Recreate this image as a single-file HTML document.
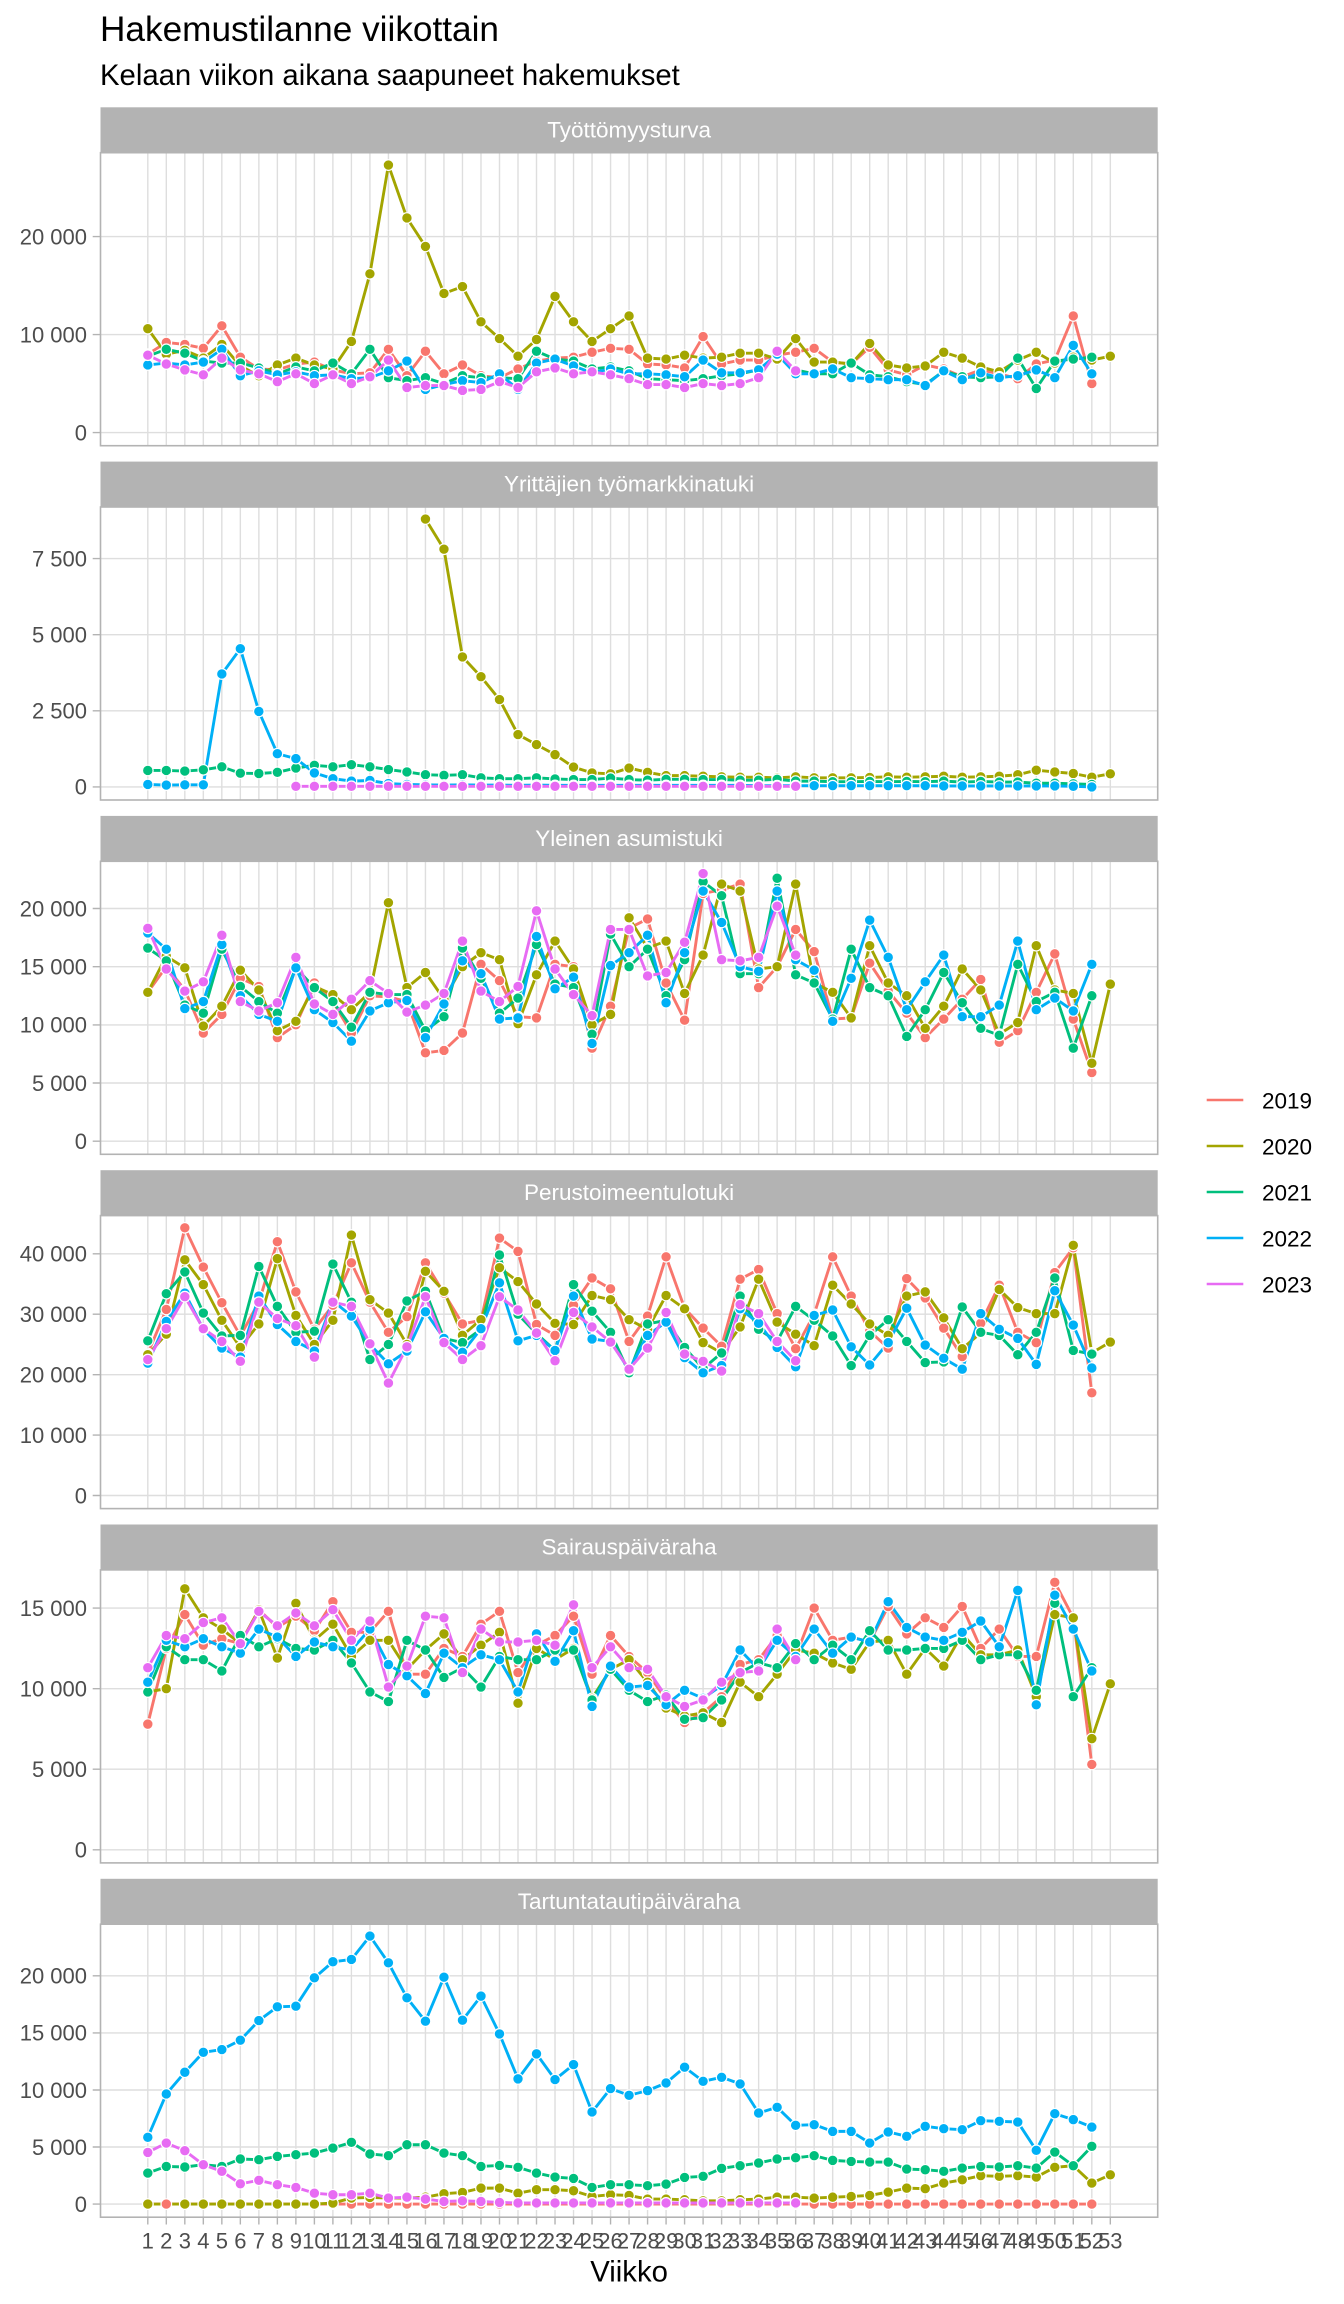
<!DOCTYPE html>
<html><head><meta charset="utf-8">
<style>
html,body{margin:0;padding:0;background:#fff}
svg{display:block}
text{font-family:"Liberation Sans",Arial,sans-serif}
.yl{font-size:22px;fill:#4D4D4D;text-anchor:end}
.xl{font-size:22px;fill:#4D4D4D;text-anchor:middle}
.st{font-size:22.5px;fill:#fff;text-anchor:middle}
.lg{font-size:22.5px;fill:#000}
.gr{stroke:#DEDEDE;stroke-width:1.4;fill:none}
.bd{stroke:#B3B3B3;stroke-width:1.6;fill:none}
.tk{stroke:#B3B3B3;stroke-width:1.4;fill:none}
</style></head><body>
<svg width="1344" height="2304" viewBox="0 0 1344 2304" xmlns="http://www.w3.org/2000/svg">
<defs>
<path id="vg" d="M147.8 0V293M166.31 0V293M184.82 0V293M203.33 0V293M221.84 0V293M240.35 0V293M258.86 0V293M277.37 0V293M295.88 0V293M314.39 0V293M332.9 0V293M351.41 0V293M369.92 0V293M388.43 0V293M406.94 0V293M425.45 0V293M443.96 0V293M462.47 0V293M480.98 0V293M499.49 0V293M518 0V293M536.51 0V293M555.02 0V293M573.53 0V293M592.04 0V293M610.55 0V293M629.06 0V293M647.57 0V293M666.08 0V293M684.59 0V293M703.1 0V293M721.61 0V293M740.12 0V293M758.63 0V293M777.14 0V293M795.65 0V293M814.16 0V293M832.67 0V293M851.18 0V293M869.69 0V293M888.2 0V293M906.71 0V293M925.22 0V293M943.73 0V293M962.24 0V293M980.75 0V293M999.26 0V293M1017.77 0V293M1036.28 0V293M1054.79 0V293M1073.3 0V293M1091.81 0V293M1110.32 0V293"/>

<marker id="m0a" markerUnits="userSpaceOnUse" overflow="visible"><circle transform="scale(.054025 -.102041)" r="5.3" fill="#F8766D" stroke="#fff" stroke-width="1.2"/></marker>
<marker id="m0b" markerUnits="userSpaceOnUse" overflow="visible"><circle transform="scale(.054025 -.102041)" r="5.3" fill="#A3A500" stroke="#fff" stroke-width="1.2"/></marker>
<marker id="m0c" markerUnits="userSpaceOnUse" overflow="visible"><circle transform="scale(.054025 -.102041)" r="5.3" fill="#00BF7D" stroke="#fff" stroke-width="1.2"/></marker>
<marker id="m0d" markerUnits="userSpaceOnUse" overflow="visible"><circle transform="scale(.054025 -.102041)" r="5.3" fill="#00B0F6" stroke="#fff" stroke-width="1.2"/></marker>
<marker id="m0e" markerUnits="userSpaceOnUse" overflow="visible"><circle transform="scale(.054025 -.102041)" r="5.3" fill="#E76BF3" stroke="#fff" stroke-width="1.2"/></marker>

<marker id="m1b" markerUnits="userSpaceOnUse" overflow="visible"><circle transform="scale(.054025 -.032852)" r="5.3" fill="#A3A500" stroke="#fff" stroke-width="1.2"/></marker>
<marker id="m1c" markerUnits="userSpaceOnUse" overflow="visible"><circle transform="scale(.054025 -.032852)" r="5.3" fill="#00BF7D" stroke="#fff" stroke-width="1.2"/></marker>
<marker id="m1d" markerUnits="userSpaceOnUse" overflow="visible"><circle transform="scale(.054025 -.032852)" r="5.3" fill="#00B0F6" stroke="#fff" stroke-width="1.2"/></marker>
<marker id="m1e" markerUnits="userSpaceOnUse" overflow="visible"><circle transform="scale(.054025 -.032852)" r="5.3" fill="#E76BF3" stroke="#fff" stroke-width="1.2"/></marker>

<marker id="m2a" markerUnits="userSpaceOnUse" overflow="visible"><circle transform="scale(.054025 -.085947)" r="5.3" fill="#F8766D" stroke="#fff" stroke-width="1.2"/></marker>
<marker id="m2b" markerUnits="userSpaceOnUse" overflow="visible"><circle transform="scale(.054025 -.085947)" r="5.3" fill="#A3A500" stroke="#fff" stroke-width="1.2"/></marker>
<marker id="m2c" markerUnits="userSpaceOnUse" overflow="visible"><circle transform="scale(.054025 -.085947)" r="5.3" fill="#00BF7D" stroke="#fff" stroke-width="1.2"/></marker>
<marker id="m2d" markerUnits="userSpaceOnUse" overflow="visible"><circle transform="scale(.054025 -.085947)" r="5.3" fill="#00B0F6" stroke="#fff" stroke-width="1.2"/></marker>
<marker id="m2e" markerUnits="userSpaceOnUse" overflow="visible"><circle transform="scale(.054025 -.085947)" r="5.3" fill="#E76BF3" stroke="#fff" stroke-width="1.2"/></marker>

<marker id="m3a" markerUnits="userSpaceOnUse" overflow="visible"><circle transform="scale(.054025 -.165494)" r="5.3" fill="#F8766D" stroke="#fff" stroke-width="1.2"/></marker>
<marker id="m3b" markerUnits="userSpaceOnUse" overflow="visible"><circle transform="scale(.054025 -.165494)" r="5.3" fill="#A3A500" stroke="#fff" stroke-width="1.2"/></marker>
<marker id="m3c" markerUnits="userSpaceOnUse" overflow="visible"><circle transform="scale(.054025 -.165494)" r="5.3" fill="#00BF7D" stroke="#fff" stroke-width="1.2"/></marker>
<marker id="m3d" markerUnits="userSpaceOnUse" overflow="visible"><circle transform="scale(.054025 -.165494)" r="5.3" fill="#00B0F6" stroke="#fff" stroke-width="1.2"/></marker>
<marker id="m3e" markerUnits="userSpaceOnUse" overflow="visible"><circle transform="scale(.054025 -.165494)" r="5.3" fill="#E76BF3" stroke="#fff" stroke-width="1.2"/></marker>

<marker id="m4a" markerUnits="userSpaceOnUse" overflow="visible"><circle transform="scale(.054025 -.062062)" r="5.3" fill="#F8766D" stroke="#fff" stroke-width="1.2"/></marker>
<marker id="m4b" markerUnits="userSpaceOnUse" overflow="visible"><circle transform="scale(.054025 -.062062)" r="5.3" fill="#A3A500" stroke="#fff" stroke-width="1.2"/></marker>
<marker id="m4c" markerUnits="userSpaceOnUse" overflow="visible"><circle transform="scale(.054025 -.062062)" r="5.3" fill="#00BF7D" stroke="#fff" stroke-width="1.2"/></marker>
<marker id="m4d" markerUnits="userSpaceOnUse" overflow="visible"><circle transform="scale(.054025 -.062062)" r="5.3" fill="#00B0F6" stroke="#fff" stroke-width="1.2"/></marker>
<marker id="m4e" markerUnits="userSpaceOnUse" overflow="visible"><circle transform="scale(.054025 -.062062)" r="5.3" fill="#E76BF3" stroke="#fff" stroke-width="1.2"/></marker>

<marker id="m5a" markerUnits="userSpaceOnUse" overflow="visible"><circle transform="scale(.054025 -.087604)" r="5.3" fill="#F8766D" stroke="#fff" stroke-width="1.2"/></marker>
<marker id="m5b" markerUnits="userSpaceOnUse" overflow="visible"><circle transform="scale(.054025 -.087604)" r="5.3" fill="#A3A500" stroke="#fff" stroke-width="1.2"/></marker>
<marker id="m5c" markerUnits="userSpaceOnUse" overflow="visible"><circle transform="scale(.054025 -.087604)" r="5.3" fill="#00BF7D" stroke="#fff" stroke-width="1.2"/></marker>
<marker id="m5d" markerUnits="userSpaceOnUse" overflow="visible"><circle transform="scale(.054025 -.087604)" r="5.3" fill="#00B0F6" stroke="#fff" stroke-width="1.2"/></marker>
<marker id="m5e" markerUnits="userSpaceOnUse" overflow="visible"><circle transform="scale(.054025 -.087604)" r="5.3" fill="#E76BF3" stroke="#fff" stroke-width="1.2"/></marker>

<path id="a0" vector-effect="non-scaling-stroke" d="M1 8 2 9.2 3 9 4 8.6 5 10.9 6 7.7 7 6.5 8 6.4 9 7 10 7.2 11 6.4 12 6 13 6.1 14 8.5 15 5.8 16 8.3 17 6 18 6.9 19 5.8 20 5.6 21 6.5 22 7.3 23 7.6 24 7.7 25 8.2 26 8.6 27 8.5 28 7 29 6.9 30 6.6 31 9.8 32 7 33 7.4 34 7.4 35 7.9 36 8.2 37 8.6 38 7.2 39 7 40 8.7 41 6.4 42 5.9 43 6.9 44 6.5 45 5.7 46 6.4 47 6 48 5.5 49 7 50 7.4 51 11.9 52 5"/>
<path id="b0" vector-effect="non-scaling-stroke" d="M1 10.6 2 8 3 8.4 4 7.6 5 9 6 6.8 7 5.8 8 6.9 9 7.6 10 6.9 11 6.5 12 9.3 13 16.2 14 27.3 15 21.9 16 19 17 14.2 18 14.9 19 11.3 20 9.6 21 7.8 22 9.5 23 13.9 24 11.3 25 9.3 26 10.6 27 11.9 28 7.6 29 7.5 30 7.9 31 7.6 32 7.7 33 8.1 34 8.1 35 7.5 36 9.6 37 7.2 38 7.2 39 7 40 9.1 41 6.9 42 6.6 43 6.8 44 8.2 45 7.6 46 6.7 47 6.2 48 7.4 49 8.2 50 7.1 51 7.7 52 7.4 53 7.8"/>
<path id="c0" vector-effect="non-scaling-stroke" d="M1 7.8 2 8.5 3 8.1 4 7.3 5 7.1 6 7.1 7 6.6 8 6 9 6.7 10 6.3 11 7.1 12 6 13 8.5 14 5.6 15 5.3 16 5.6 17 5 18 5.8 19 5.6 20 5.6 21 5.5 22 8.3 23 7.5 24 7.3 25 6.5 26 6.7 27 6.3 28 5.5 29 5.4 30 5.3 31 5.5 32 5.8 33 6 34 6.4 35 7.9 36 6.4 37 6 38 6 39 7.1 40 5.9 41 5.7 42 5.2 43 4.9 44 6.3 45 5.7 46 5.6 47 5.7 48 7.6 49 4.5 50 7.3 51 7.5 52 7.7"/>
<path id="d0" vector-effect="non-scaling-stroke" d="M1 6.9 2 7.1 3 6.9 4 7.2 5 8.5 6 5.8 7 6.3 8 5.9 9 6.2 10 5.8 11 5.9 12 5.5 13 5.6 14 6.3 15 7.3 16 4.4 17 4.9 18 5.3 19 5.1 20 6 21 4.4 22 7.1 23 7.5 24 6.8 25 6.1 26 6.5 27 6 28 6 29 5.9 30 5.7 31 7.4 32 6.1 33 6.1 34 6.4 35 8 36 6 37 6 38 6.5 39 5.6 40 5.5 41 5.4 42 5.4 43 4.8 44 6.3 45 5.4 46 6.1 47 5.6 48 5.8 49 6.4 50 5.6 51 8.9 52 6"/>
<path id="e0" vector-effect="non-scaling-stroke" d="M1 7.9 2 7 3 6.4 4 5.9 5 7.6 6 6.4 7 6 8 5.2 9 6 10 5 11 5.9 12 5 13 5.7 14 7.4 15 4.6 16 4.8 17 4.8 18 4.3 19 4.4 20 5.2 21 4.6 22 6.2 23 6.6 24 6 25 6.2 26 5.9 27 5.5 28 4.9 29 4.9 30 4.6 31 5 32 4.8 33 5 34 5.6 35 8.3 36 6.3"/>

<path id="b1" vector-effect="non-scaling-stroke" d="M16 8.8 17 7.81 18 4.27 19 3.62 20 2.87 21 1.72 22 1.39 23 1.06 24 .65 25 .46 26 .43 27 .62 28 .48 29 .37 30 .37 31 .35 32 .33 33 .32 34 .32 35 .3 36 .33 37 .3 38 .3 39 .3 40 .31 41 .33 42 .32 43 .33 44 .35 45 .32 46 .33 47 .35 48 .4 49 .55 50 .49 51 .44 52 .32 53 .43"/>
<path id="c1" vector-effect="non-scaling-stroke" d="M1 .54 2 .54 3 .52 4 .56 5 .66 6 .45 7 .44 8 .48 9 .62 10 .71 11 .66 12 .73 13 .66 14 .57 15 .49 16 .4 17 .38 18 .4 19 .3 20 .27 21 .27 22 .3 23 .26 24 .24 25 .24 26 .29 27 .24 28 .22 29 .25 30 .25 31 .24 32 .24 33 .22 34 .22 35 .25 36 .19 37 .19 38 .17 39 .17 40 .18 41 .17 42 .18 43 .17 44 .19 45 .16 46 .18 47 .16 48 .16 49 .12 50 .12 51 .1 52 .08"/>
<path id="d1" vector-effect="non-scaling-stroke" d="M1 .08 2 .06 3 .07 4 .07 5 3.71 6 4.54 7 2.48 8 1.09 9 .93 10 .46 11 .27 12 .19 13 .21 14 .11 15 .08 16 .07 17 .06 18 .07 19 .06 20 .06 21 .05 22 .06 23 .05 24 .05 25 .05 26 .05 27 .05 28 .05 29 .05 30 .05 31 .05 32 .05 33 .05 34 .04 35 .04 36 .04 37 .04 38 .04 39 .04 40 .04 41 .04 42 .04 43 .04 44 .03 45 .03 46 .03 47 .03 48 .03 49 .03 50 .03 51 .02 52 0"/>
<path id="e1" vector-effect="non-scaling-stroke" d="M9 .02 10 .02 11 .02 12 .02 13 .02 14 .02 15 .02 16 .02 17 .02 18 .02 19 .02 20 .02 21 .02 22 .02 23 .02 24 .02 25 .02 26 .02 27 .02 28 .02 29 .02 30 .02 31 .02 32 .02 33 .02 34 .02 35 .02 36 .02"/>

<path id="a2" vector-effect="non-scaling-stroke" d="M1 12.8 2 15 3 13 4 9.3 5 10.9 6 14 7 13.3 8 8.9 9 10 10 13.6 11 12 12 9.3 13 12.5 14 12.4 15 12 16 7.6 17 7.8 18 9.3 19 15.2 20 13.8 21 10.7 22 10.6 23 15.2 24 15 25 8 26 11.6 27 18.3 28 19.1 29 13.6 30 10.4 31 21.3 32 21.6 33 22.1 34 13.2 35 15 36 18.2 37 16.3 38 10.5 39 10.6 40 15.3 41 12.9 42 11 43 8.9 44 10.5 45 12.2 46 13.9 47 8.5 48 9.5 49 12.8 50 16.1 51 10.5 52 5.9"/>
<path id="b2" vector-effect="non-scaling-stroke" d="M1 12.8 2 15.9 3 14.9 4 9.9 5 11.6 6 14.7 7 13 8 9.5 9 10.3 10 13.3 11 12.6 12 11.3 13 12.8 14 20.5 15 13.2 16 14.5 17 12.2 18 15 19 16.2 20 15.6 21 10.1 22 14.3 23 17.2 24 14.8 25 10 26 10.9 27 19.2 28 16.6 29 17.2 30 12.7 31 16 32 22.1 33 21.5 34 14.8 35 15 36 22.1 37 13.6 38 12.8 39 10.6 40 16.8 41 13.6 42 12.5 43 9.7 44 11.6 45 14.8 46 13 47 9.2 48 10.2 49 16.8 50 13 51 12.7 52 6.7 53 13.5"/>
<path id="c2" vector-effect="non-scaling-stroke" d="M1 16.6 2 15.5 3 11.7 4 11 5 16.5 6 13.3 7 12 8 11 9 14.9 10 13.2 11 12 12 9.8 13 12.8 14 12.6 15 12.6 16 9.5 17 10.7 18 16.6 19 14 20 11 21 12.3 22 16.9 23 13.5 24 13.2 25 9.2 26 17.8 27 15 28 16.5 29 12.5 30 15.6 31 22.3 32 21.1 33 14.4 34 14.4 35 22.6 36 14.3 37 13.6 38 10.5 39 16.5 40 13.2 41 12.5 42 9 43 11.3 44 14.5 45 11.9 46 9.7 47 9.1 48 15.2 49 12 50 12.8 51 8 52 12.5"/>
<path id="d2" vector-effect="non-scaling-stroke" d="M1 17.9 2 16.5 3 11.4 4 12 5 16.9 6 12.5 7 10.9 8 10.3 9 14.9 10 11.3 11 10.2 12 8.6 13 11.2 14 11.9 15 12.1 16 8.9 17 11.8 18 15.5 19 14.4 20 10.5 21 10.6 22 17.6 23 13.1 24 14.1 25 8.4 26 15.1 27 16.2 28 17.7 29 11.9 30 16.2 31 21.5 32 18.8 33 15 34 14.6 35 21.5 36 15.6 37 14.7 38 10.3 39 14 40 19 41 15.8 42 11.3 43 13.7 44 16 45 10.7 46 10.7 47 11.7 48 17.2 49 11.3 50 12.3 51 11.2 52 15.2"/>
<path id="e2" vector-effect="non-scaling-stroke" d="M1 18.3 2 14.8 3 12.9 4 13.7 5 17.7 6 12 7 11.2 8 11.9 9 15.8 10 11.8 11 10.9 12 12.2 13 13.8 14 12.7 15 11.1 16 11.7 17 12.7 18 17.2 19 12.9 20 12 21 13.3 22 19.8 23 14.8 24 12.6 25 10.8 26 18.2 27 18.2 28 14.2 29 14.5 30 17.1 31 23 32 15.6 33 15.5 34 15.8 35 20.2 36 16"/>

<path id="a3" vector-effect="non-scaling-stroke" d="M1 23.5 2 30.8 3 44.3 4 37.8 5 31.9 6 26.4 7 32 8 42 9 33.7 10 27.5 11 31.5 12 38.5 13 32 14 27 15 29.6 16 38.5 17 33.5 18 28.4 19 29 20 42.6 21 40.4 22 28.3 23 26.5 24 31.5 25 36 26 34.2 27 25.5 28 29.7 29 39.5 30 31 31 27.7 32 24.7 33 35.8 34 37.4 35 30.1 36 24.3 37 30 38 39.5 39 33 40 27.2 41 24.4 42 35.9 43 32.7 44 27.7 45 23 46 28.5 47 34.8 48 27 49 25.3 50 36.9 51 41 52 17"/>
<path id="b3" vector-effect="non-scaling-stroke" d="M1 23.3 2 26.7 3 39 4 34.9 5 29 6 24.5 7 28.4 8 39.2 9 29.8 10 25 11 29 12 43.1 13 32.4 14 30.2 15 25 16 37.1 17 33.8 18 26.5 19 29.1 20 37.7 21 35.4 22 31.7 23 28.5 24 28.3 25 33.1 26 32.4 27 29.1 28 27.5 29 33.1 30 30.9 31 25.3 32 23.6 33 27.9 34 35.8 35 28.7 36 26.7 37 24.8 38 34.8 39 31.7 40 28.4 41 26.5 42 33 43 33.7 44 29.4 45 24.3 46 26.9 47 34.1 48 31.1 49 30.1 50 30.1 51 41.4 52 23.6 53 25.4"/>
<path id="c3" vector-effect="non-scaling-stroke" d="M1 25.6 2 33.4 3 37 4 30.2 5 26.4 6 26.5 7 37.9 8 31.3 9 27 10 27.2 11 38.3 12 32 13 22.5 14 25 15 32.2 16 33.8 17 26 18 25.3 19 27.5 20 39.8 21 30 22 26.8 23 24 24 34.9 25 30.5 26 27 27 20.3 28 28.4 29 29 30 24.5 31 21 32 23.6 33 33 34 27.5 35 25.5 36 31.3 37 29 38 26.4 39 21.5 40 26.5 41 29.1 42 25.5 43 22 44 22.1 45 31.2 46 27 47 26.5 48 23.3 49 27 50 36 51 24 52 23.4"/>
<path id="d3" vector-effect="non-scaling-stroke" d="M1 21.9 2 28.8 3 33.5 4 27.5 5 24.4 6 22.9 7 33 8 28.3 9 25.5 10 23.9 11 32.2 12 29.7 13 25 14 21.8 15 23.9 16 30.4 17 26 18 23.7 19 27.6 20 35.2 21 25.6 22 26.5 23 24 24 33 25 25.9 26 25.5 27 20.8 28 26.5 29 28.7 30 22.8 31 20.3 32 21.5 33 30.9 34 28.5 35 24.5 36 21.3 37 29.8 38 30.7 39 24.6 40 21.6 41 25.3 42 31 43 24.9 44 22.7 45 20.9 46 30.1 47 27.5 48 26 49 21.7 50 33.9 51 28.2 52 21.1"/>
<path id="e3" vector-effect="non-scaling-stroke" d="M1 22.5 2 27.6 3 32.9 4 27.6 5 25.5 6 22.2 7 32 8 29.3 9 28.1 10 22.9 11 32 12 31.3 13 25.1 14 18.6 15 24.6 16 32.9 17 25.3 18 22.5 19 24.8 20 32.9 21 30.7 22 26.9 23 22.3 24 30.3 25 27.9 26 25.4 27 20.9 28 24.4 29 30.3 30 23.4 31 22.2 32 20.6 33 31.6 34 30.1 35 25.5 36 22.3"/>

<path id="a4" vector-effect="non-scaling-stroke" d="M1 7.8 2 12.5 3 14.6 4 12.7 5 13.1 6 12.8 7 14.9 8 13.8 9 14.5 10 13.6 11 15.4 12 13.5 13 13.5 14 14.8 15 10.9 16 10.9 17 12.5 18 12 19 14 20 14.8 21 11 22 12.7 23 13.3 24 14.5 25 10.9 26 13.3 27 12 28 11 29 9.3 30 7.9 31 8.5 32 9.5 33 11.5 34 11.8 35 13.3 36 12 37 15 38 13 39 13.2 40 12.9 41 15.1 42 13.4 43 14.4 44 13.8 45 15.1 46 12.5 47 13.7 48 12 49 12 50 16.6 51 14.4 52 5.3"/>
<path id="b4" vector-effect="non-scaling-stroke" d="M1 9.8 2 10 3 16.2 4 14.4 5 13.7 6 12.8 7 14.9 8 11.9 9 15.3 10 13 11 14 12 12 13 13 14 13 15 11.2 16 12.4 17 13.4 18 11.8 19 12.7 20 13.5 21 9.1 22 12.5 23 11.8 24 12.5 25 9.4 26 11.2 27 11.8 28 10.4 29 8.8 30 8.3 31 8.5 32 7.9 33 10.4 34 9.5 35 10.9 36 12.4 37 12.2 38 11.6 39 11.2 40 12.9 41 13 42 10.9 43 12.5 44 11.4 45 13.4 46 12.1 47 12.1 48 12.4 49 9.5 50 14.6 51 14.4 52 6.9 53 10.3"/>
<path id="c4" vector-effect="non-scaling-stroke" d="M1 9.8 2 12.6 3 11.8 4 11.8 5 11.1 6 13.3 7 12.6 8 13.1 9 12.5 10 12.4 11 13 12 11.6 13 9.8 14 9.2 15 13 16 12.4 17 10.7 18 11.3 19 10.1 20 12 21 11.8 22 11.8 23 12.4 24 12.4 25 9.3 26 11.2 27 9.9 28 9.2 29 9.6 30 8.1 31 8.2 32 9.3 33 11 34 11.6 35 11.3 36 12.8 37 11.8 38 12.7 39 11.8 40 13.6 41 12.4 42 12.4 43 12.5 44 12.5 45 13 46 11.8 47 12.1 48 12.1 49 9.9 50 15.3 51 9.5 52 11.3"/>
<path id="d4" vector-effect="non-scaling-stroke" d="M1 10.4 2 13 3 12.6 4 13.1 5 12.6 6 12.2 7 13.7 8 13.2 9 12 10 12.9 11 12.6 12 12.4 13 13.7 14 11.5 15 10.8 16 9.7 17 12.2 18 11.3 19 12.1 20 11.8 21 9.8 22 13.4 23 11.7 24 13.6 25 8.9 26 11.4 27 10.1 28 10.2 29 9 30 9.9 31 9.4 32 10.2 33 12.4 34 11.2 35 13 36 12 37 13.7 38 12.2 39 13.2 40 12.9 41 15.4 42 13.8 43 13.2 44 13 45 13.5 46 14.2 47 12.6 48 16.1 49 9 50 15.8 51 13.7 52 11.1"/>
<path id="e4" vector-effect="non-scaling-stroke" d="M1 11.3 2 13.3 3 13.1 4 14.1 5 14.4 6 12.8 7 14.8 8 13.9 9 14.7 10 13.9 11 14.9 12 13 13 14.2 14 10.1 15 11.4 16 14.5 17 14.4 18 11 19 13.7 20 12.9 21 12.9 22 13 23 12.7 24 15.2 25 11.3 26 12.6 27 11.3 28 11.2 29 9.5 30 8.9 31 9.3 32 10.4 33 11 34 11.1 35 13.7 36 11.8"/>

<path id="a5" vector-effect="non-scaling-stroke" d="M1 0 2 0 3 0 4 0 5 0 6 0 7 0 8 0 9 0 10 0 11 0 12 0 13 0 14 0 15 0 16 0 17 0 18 0 19 0 20 0 21 0 22 0 23 0 24 0 25 0 26 0 27 0 28 0 29 0 30 0 31 0 32 0 33 0 34 0 35 0 36 0 37 0 38 0 39 0 40 0 41 0 42 0 43 0 44 0 45 0 46 0 47 0 48 0 49 0 50 0 51 0 52 0"/>
<path id="b5" vector-effect="non-scaling-stroke" d="M1 0 3 0 4 0 5 0 6 0 7 0 8 0 9 0 10 0 11 .09 12 .53 13 .58 14 .53 15 .53 16 .61 17 .91 18 1.02 19 1.4 20 1.4 21 .96 22 1.26 23 1.26 24 1.17 25 .67 26 .82 27 .76 28 .44 29 .44 30 .38 31 .29 32 .29 33 .38 34 .44 35 .61 36 .61 37 .53 38 .61 39 .67 40 .76 41 1.05 42 1.4 43 1.35 44 1.84 45 2.13 46 2.49 47 2.43 48 2.49 49 2.37 50 3.22 51 3.36 52 1.84 53 2.57"/>
<path id="c5" vector-effect="non-scaling-stroke" d="M1 2.72 2 3.3 3 3.25 4 3.45 5 3.3 6 3.95 7 3.89 8 4.18 9 4.33 10 4.47 11 4.91 12 5.41 13 4.39 14 4.24 15 5.2 16 5.2 17 4.47 18 4.24 19 3.3 20 3.39 21 3.22 22 2.72 23 2.37 24 2.25 25 1.46 26 1.7 27 1.7 28 1.61 29 1.75 30 2.34 31 2.43 32 3.13 33 3.36 34 3.6 35 3.95 36 4.06 37 4.24 38 3.83 39 3.74 40 3.68 41 3.68 42 3.07 43 3.01 44 2.87 45 3.16 46 3.3 47 3.25 48 3.36 49 3.16 50 4.56 51 3.36 52 5.06"/>
<path id="d5" vector-effect="non-scaling-stroke" d="M1 5.85 2 9.65 3 11.55 4 13.3 5 13.54 6 14.36 7 16.08 8 17.28 9 17.34 10 19.82 11 21.23 12 21.43 13 23.48 14 21.14 15 18.07 16 16.02 17 19.88 18 16.11 19 18.22 20 14.91 21 10.97 22 13.16 23 10.91 24 12.22 25 8.07 26 10.12 27 9.53 28 9.94 29 10.61 30 11.99 31 10.76 32 11.11 33 10.53 34 7.98 35 8.48 36 6.9 37 6.96 38 6.37 39 6.37 40 5.35 41 6.32 42 5.94 43 6.81 44 6.61 45 6.52 46 7.31 47 7.25 48 7.19 49 4.71 50 7.92 51 7.4 52 6.75"/>
<path id="e5" vector-effect="non-scaling-stroke" d="M1 4.53 2 5.35 3 4.68 4 3.45 5 2.87 6 1.78 7 2.08 8 1.7 9 1.46 10 .96 11 .82 12 .82 13 .96 14 .53 15 .61 16 .44 17 .23 18 .29 19 .23 20 .15 21 .1 22 .1 23 .1 24 .1 25 .1 26 .1 27 .1 28 .1 29 .1 30 .1 31 .1 32 .1 33 .1 34 .1 35 .1 36 .1"/>
</defs>

<rect width="1344" height="2304" fill="#fff"/>

<text x="100" y="41" font-size="35.2" fill="#000">Hakemustilanne viikottain</text>
<text x="100" y="85" font-size="29.3" fill="#000">Kelaan viikon aikana saapuneet hakemukset</text>

<!-- Panel 1 -->
<rect x="100.5" y="107.3" width="1057.2" height="45.4" fill="#B3B3B3"/>
<text class="st" x="629.1" y="137.3">Työttömyysturva</text>
<use href="#vg" y="152.7" class="gr"/>
<path class="gr" d="M100.5 432.6H1157.7M100.5 334.6H1157.7M100.5 236.6H1157.7"/>
<g transform="matrix(18.51 0 0 -9.8 129.29 432.6)" fill="none" stroke-width="2.9" stroke-linejoin="round">
<use href="#a0" stroke="#F8766D"/><use href="#b0" stroke="#A3A500"/><use href="#c0" stroke="#00BF7D"/><use href="#d0" stroke="#00B0F6"/><use href="#e0" stroke="#E76BF3"/>
<use href="#a0" stroke="none" marker-start="url(#m0a)" marker-mid="url(#m0a)" marker-end="url(#m0a)"/>
<use href="#b0" stroke="none" marker-start="url(#m0b)" marker-mid="url(#m0b)" marker-end="url(#m0b)"/>
<use href="#c0" stroke="none" marker-start="url(#m0c)" marker-mid="url(#m0c)" marker-end="url(#m0c)"/>
<use href="#d0" stroke="none" marker-start="url(#m0d)" marker-mid="url(#m0d)" marker-end="url(#m0d)"/>
<use href="#e0" stroke="none" marker-start="url(#m0e)" marker-mid="url(#m0e)" marker-end="url(#m0e)"/>
</g>
<rect class="bd" x="100.5" y="152.7" width="1057.2" height="293"/>
<path class="tk" d="M92.7 432.6H100.5M92.7 334.6H100.5M92.7 236.6H100.5"/>
<text class="yl" x="87" y="440.4">0</text>
<text class="yl" x="87" y="342.4">10 000</text>
<text class="yl" x="87" y="244.4">20 000</text>

<!-- Panel 2 -->
<rect x="100.5" y="461.6" width="1057.2" height="45.4" fill="#B3B3B3"/>
<text class="st" x="629.1" y="491.6">Yrittäjien työmarkkinatuki</text>
<use href="#vg" y="507" class="gr"/>
<path class="gr" d="M100.5 786.9H1157.7M100.5 710.8H1157.7M100.5 634.7H1157.7M100.5 558.6H1157.7"/>
<g transform="matrix(18.51 0 0 -30.44 129.29 786.9)" fill="none" stroke-width="2.9" stroke-linejoin="round">
<use href="#b1" stroke="#A3A500"/><use href="#c1" stroke="#00BF7D"/><use href="#d1" stroke="#00B0F6"/><use href="#e1" stroke="#E76BF3"/>
<use href="#b1" stroke="none" marker-start="url(#m1b)" marker-mid="url(#m1b)" marker-end="url(#m1b)"/>
<use href="#c1" stroke="none" marker-start="url(#m1c)" marker-mid="url(#m1c)" marker-end="url(#m1c)"/>
<use href="#d1" stroke="none" marker-start="url(#m1d)" marker-mid="url(#m1d)" marker-end="url(#m1d)"/>
<use href="#e1" stroke="none" marker-start="url(#m1e)" marker-mid="url(#m1e)" marker-end="url(#m1e)"/>
</g>
<rect class="bd" x="100.5" y="507" width="1057.2" height="293"/>
<path class="tk" d="M92.7 786.9H100.5M92.7 710.8H100.5M92.7 634.7H100.5M92.7 558.6H100.5"/>
<text class="yl" x="87" y="794.7">0</text>
<text class="yl" x="87" y="718.6">2 500</text>
<text class="yl" x="87" y="642.5">5 000</text>
<text class="yl" x="87" y="566.4">7 500</text>

<!-- Panel 3 -->
<rect x="100.5" y="815.9" width="1057.2" height="45.4" fill="#B3B3B3"/>
<text class="st" x="629.1" y="845.9">Yleinen asumistuki</text>
<use href="#vg" y="861.3" class="gr"/>
<path class="gr" d="M100.5 1141.2H1157.7M100.5 1083H1157.7M100.5 1024.9H1157.7M100.5 966.7H1157.7M100.5 908.5H1157.7"/>
<g transform="matrix(18.51 0 0 -11.635 129.29 1141.2)" fill="none" stroke-width="2.9" stroke-linejoin="round">
<use href="#a2" stroke="#F8766D"/><use href="#b2" stroke="#A3A500"/><use href="#c2" stroke="#00BF7D"/><use href="#d2" stroke="#00B0F6"/><use href="#e2" stroke="#E76BF3"/>
<use href="#a2" stroke="none" marker-start="url(#m2a)" marker-mid="url(#m2a)" marker-end="url(#m2a)"/>
<use href="#b2" stroke="none" marker-start="url(#m2b)" marker-mid="url(#m2b)" marker-end="url(#m2b)"/>
<use href="#c2" stroke="none" marker-start="url(#m2c)" marker-mid="url(#m2c)" marker-end="url(#m2c)"/>
<use href="#d2" stroke="none" marker-start="url(#m2d)" marker-mid="url(#m2d)" marker-end="url(#m2d)"/>
<use href="#e2" stroke="none" marker-start="url(#m2e)" marker-mid="url(#m2e)" marker-end="url(#m2e)"/>
</g>
<rect class="bd" x="100.5" y="861.3" width="1057.2" height="293"/>
<path class="tk" d="M92.7 1141.2H100.5M92.7 1083H100.5M92.7 1024.9H100.5M92.7 966.7H100.5M92.7 908.5H100.5"/>
<text class="yl" x="87" y="1149">0</text>
<text class="yl" x="87" y="1090.8">5 000</text>
<text class="yl" x="87" y="1032.7">10 000</text>
<text class="yl" x="87" y="974.5">15 000</text>
<text class="yl" x="87" y="916.3">20 000</text>

<!-- Panel 4 -->
<rect x="100.5" y="1170.2" width="1057.2" height="45.4" fill="#B3B3B3"/>
<text class="st" x="629.1" y="1200.2">Perustoimeentulotuki</text>
<use href="#vg" y="1215.6" class="gr"/>
<path class="gr" d="M100.5 1495.5H1157.7M100.5 1435.1H1157.7M100.5 1374.7H1157.7M100.5 1314.2H1157.7M100.5 1253.8H1157.7"/>
<g transform="matrix(18.51 0 0 -6.0425 129.29 1495.5)" fill="none" stroke-width="2.9" stroke-linejoin="round">
<use href="#a3" stroke="#F8766D"/><use href="#b3" stroke="#A3A500"/><use href="#c3" stroke="#00BF7D"/><use href="#d3" stroke="#00B0F6"/><use href="#e3" stroke="#E76BF3"/>
<use href="#a3" stroke="none" marker-start="url(#m3a)" marker-mid="url(#m3a)" marker-end="url(#m3a)"/>
<use href="#b3" stroke="none" marker-start="url(#m3b)" marker-mid="url(#m3b)" marker-end="url(#m3b)"/>
<use href="#c3" stroke="none" marker-start="url(#m3c)" marker-mid="url(#m3c)" marker-end="url(#m3c)"/>
<use href="#d3" stroke="none" marker-start="url(#m3d)" marker-mid="url(#m3d)" marker-end="url(#m3d)"/>
<use href="#e3" stroke="none" marker-start="url(#m3e)" marker-mid="url(#m3e)" marker-end="url(#m3e)"/>
</g>
<rect class="bd" x="100.5" y="1215.6" width="1057.2" height="293"/>
<path class="tk" d="M92.7 1495.5H100.5M92.7 1435.1H100.5M92.7 1374.7H100.5M92.7 1314.2H100.5M92.7 1253.8H100.5"/>
<text class="yl" x="87" y="1503.3">0</text>
<text class="yl" x="87" y="1442.9">10 000</text>
<text class="yl" x="87" y="1382.5">20 000</text>
<text class="yl" x="87" y="1322">30 000</text>
<text class="yl" x="87" y="1261.6">40 000</text>

<!-- Panel 5 -->
<rect x="100.5" y="1524.5" width="1057.2" height="45.4" fill="#B3B3B3"/>
<text class="st" x="629.1" y="1554.5">Sairauspäiväraha</text>
<use href="#vg" y="1569.9" class="gr"/>
<path class="gr" d="M100.5 1849.8H1157.7M100.5 1769.2H1157.7M100.5 1688.7H1157.7M100.5 1608.1H1157.7"/>
<g transform="matrix(18.51 0 0 -16.113 129.29 1849.8)" fill="none" stroke-width="2.9" stroke-linejoin="round">
<use href="#a4" stroke="#F8766D"/><use href="#b4" stroke="#A3A500"/><use href="#c4" stroke="#00BF7D"/><use href="#d4" stroke="#00B0F6"/><use href="#e4" stroke="#E76BF3"/>
<use href="#a4" stroke="none" marker-start="url(#m4a)" marker-mid="url(#m4a)" marker-end="url(#m4a)"/>
<use href="#b4" stroke="none" marker-start="url(#m4b)" marker-mid="url(#m4b)" marker-end="url(#m4b)"/>
<use href="#c4" stroke="none" marker-start="url(#m4c)" marker-mid="url(#m4c)" marker-end="url(#m4c)"/>
<use href="#d4" stroke="none" marker-start="url(#m4d)" marker-mid="url(#m4d)" marker-end="url(#m4d)"/>
<use href="#e4" stroke="none" marker-start="url(#m4e)" marker-mid="url(#m4e)" marker-end="url(#m4e)"/>
</g>
<rect class="bd" x="100.5" y="1569.9" width="1057.2" height="293"/>
<path class="tk" d="M92.7 1849.8H100.5M92.7 1769.2H100.5M92.7 1688.7H100.5M92.7 1608.1H100.5"/>
<text class="yl" x="87" y="1857.6">0</text>
<text class="yl" x="87" y="1777">5 000</text>
<text class="yl" x="87" y="1696.5">10 000</text>
<text class="yl" x="87" y="1615.9">15 000</text>

<!-- Panel 6 -->
<rect x="100.5" y="1878.8" width="1057.2" height="45.4" fill="#B3B3B3"/>
<text class="st" x="629.1" y="1908.8">Tartuntatautipäiväraha</text>
<use href="#vg" y="1924.2" class="gr"/>
<path class="gr" d="M100.5 2204.1H1157.7M100.5 2147H1157.7M100.5 2090H1157.7M100.5 2032.9H1157.7M100.5 1975.8H1157.7"/>
<g transform="matrix(18.51 0 0 -11.415 129.29 2204.1)" fill="none" stroke-width="2.9" stroke-linejoin="round">
<use href="#a5" stroke="#F8766D"/><use href="#b5" stroke="#A3A500"/><use href="#c5" stroke="#00BF7D"/><use href="#d5" stroke="#00B0F6"/><use href="#e5" stroke="#E76BF3"/>
<use href="#a5" stroke="none" marker-start="url(#m5a)" marker-mid="url(#m5a)" marker-end="url(#m5a)"/>
<use href="#b5" stroke="none" marker-start="url(#m5b)" marker-mid="url(#m5b)" marker-end="url(#m5b)"/>
<use href="#c5" stroke="none" marker-start="url(#m5c)" marker-mid="url(#m5c)" marker-end="url(#m5c)"/>
<use href="#d5" stroke="none" marker-start="url(#m5d)" marker-mid="url(#m5d)" marker-end="url(#m5d)"/>
<use href="#e5" stroke="none" marker-start="url(#m5e)" marker-mid="url(#m5e)" marker-end="url(#m5e)"/>
</g>
<rect class="bd" x="100.5" y="1924.2" width="1057.2" height="293"/>
<path class="tk" d="M92.7 2204.1H100.5M92.7 2147H100.5M92.7 2090H100.5M92.7 2032.9H100.5M92.7 1975.8H100.5"/>
<text class="yl" x="87" y="2211.9">0</text>
<text class="yl" x="87" y="2154.8">5 000</text>
<text class="yl" x="87" y="2097.8">10 000</text>
<text class="yl" x="87" y="2040.7">15 000</text>
<text class="yl" x="87" y="1983.6">20 000</text>

<!-- x axis ticks -->
<use href="#vg" class="tk" transform="translate(0 2217.2) scale(1 .0249)"/>
<g class="xl">
<text class="xl" x="147.8" y="2248.3">1</text><text class="xl" x="166.31" y="2248.3">2</text><text class="xl" x="184.82" y="2248.3">3</text><text class="xl" x="203.33" y="2248.3">4</text><text class="xl" x="221.84" y="2248.3">5</text><text class="xl" x="240.35" y="2248.3">6</text><text class="xl" x="258.86" y="2248.3">7</text><text class="xl" x="277.37" y="2248.3">8</text><text class="xl" x="295.88" y="2248.3">9</text><text class="xl" x="314.39" y="2248.3">10</text>
<text class="xl" x="332.9" y="2248.3">11</text><text class="xl" x="351.41" y="2248.3">12</text><text class="xl" x="369.92" y="2248.3">13</text><text class="xl" x="388.43" y="2248.3">14</text><text class="xl" x="406.94" y="2248.3">15</text><text class="xl" x="425.45" y="2248.3">16</text><text class="xl" x="443.96" y="2248.3">17</text><text class="xl" x="462.47" y="2248.3">18</text><text class="xl" x="480.98" y="2248.3">19</text><text class="xl" x="499.49" y="2248.3">20</text>
<text class="xl" x="518" y="2248.3">21</text><text class="xl" x="536.51" y="2248.3">22</text><text class="xl" x="555.02" y="2248.3">23</text><text class="xl" x="573.53" y="2248.3">24</text><text class="xl" x="592.04" y="2248.3">25</text><text class="xl" x="610.55" y="2248.3">26</text><text class="xl" x="629.06" y="2248.3">27</text><text class="xl" x="647.57" y="2248.3">28</text><text class="xl" x="666.08" y="2248.3">29</text><text class="xl" x="684.59" y="2248.3">30</text>
<text class="xl" x="703.1" y="2248.3">31</text><text class="xl" x="721.61" y="2248.3">32</text><text class="xl" x="740.12" y="2248.3">33</text><text class="xl" x="758.63" y="2248.3">34</text><text class="xl" x="777.14" y="2248.3">35</text><text class="xl" x="795.65" y="2248.3">36</text><text class="xl" x="814.16" y="2248.3">37</text><text class="xl" x="832.67" y="2248.3">38</text><text class="xl" x="851.18" y="2248.3">39</text><text class="xl" x="869.69" y="2248.3">40</text>
<text class="xl" x="888.2" y="2248.3">41</text><text class="xl" x="906.71" y="2248.3">42</text><text class="xl" x="925.22" y="2248.3">43</text><text class="xl" x="943.73" y="2248.3">44</text><text class="xl" x="962.24" y="2248.3">45</text><text class="xl" x="980.75" y="2248.3">46</text><text class="xl" x="999.26" y="2248.3">47</text><text class="xl" x="1017.77" y="2248.3">48</text><text class="xl" x="1036.28" y="2248.3">49</text><text class="xl" x="1054.79" y="2248.3">50</text>
<text class="xl" x="1073.3" y="2248.3">51</text><text class="xl" x="1091.81" y="2248.3">52</text><text class="xl" x="1110.32" y="2248.3">53</text>
</g>
<text x="629.1" y="2281.7" font-size="29.3" fill="#000" text-anchor="middle">Viikko</text>

<!-- legend -->
<g stroke-width="2.6">
<path d="M1206.7 1100H1243.3" stroke="#F8766D"/>
<path d="M1206.7 1146H1243.3" stroke="#A3A500"/>
<path d="M1206.7 1192H1243.3" stroke="#00BF7D"/>
<path d="M1206.7 1238H1243.3" stroke="#00B0F6"/>
<path d="M1206.7 1284H1243.3" stroke="#E76BF3"/>
</g>
<text class="lg" x="1262" y="1108.3">2019</text>
<text class="lg" x="1262" y="1154.3">2020</text>
<text class="lg" x="1262" y="1200.3">2021</text>
<text class="lg" x="1262" y="1246.3">2022</text>
<text class="lg" x="1262" y="1292.3">2023</text>
</svg>
</body></html>
